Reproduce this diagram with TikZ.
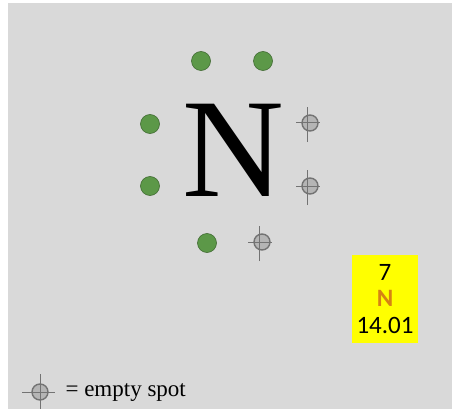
\documentclass[tikz,border=0pt]{standalone}
\usepackage{fontspec}
\setmainfont{Liberation Serif}
\newfontfamily\boxfont{Carlito}
\usetikzlibrary{positioning}
\definecolor{bggray}{RGB}{217,217,217}
\definecolor{dotgreen}{RGB}{92,152,72}
\definecolor{spotgray}{RGB}{115,115,115}
\definecolor{nyellow}{RGB}{255,255,0}
\definecolor{norange}{RGB}{214,130,20}

\begin{document}
\begin{tikzpicture}[x=1pt,y=-1pt,
  dot/.style={circle,fill=dotgreen,draw=dotgreen!70!black,line width=0.6pt,minimum size=19pt,inner sep=0pt},
  spot/.style={circle,fill=spotgray,fill opacity=0.35,draw=spotgray,line width=1.4pt,minimum size=16pt,inner sep=0pt},
  hair/.style={draw=spotgray,line width=1pt},
  cardbox/.style={fill=nyellow,minimum width=66pt,minimum height=88pt,inner sep=0pt},
  cardtext/.style={font=\boxfont\fontsize{25}{25}\selectfont},
]
\useasboundingbox (0,0) rectangle (452,409);
\fill[white] (0,0) rectangle (452,409);
\fill[bggray] (8,3) rectangle (452,409);
% element symbol
\node[font=\fontsize{141}{141}\selectfont] (sym) at (233,150) {N};
% valence electrons
\node[dot] (d1) at (201,61) {};
\node[dot] (d2) at (263,61) {};
\node[dot] (d3) at (150,124) {};
\node[dot] (d4) at (150,186) {};
\node[dot] (d5) at (207,243) {};
% empty spots
\node[spot] (s1) at (310,123) {};
\node[spot] (s2) at (310,186) {};
\node[spot] (s3) at (262,242) {};
\node[spot] (key) at (40,392) {};
\foreach \s in {s1,s2,s3}{
  \draw[hair] ([xshift=-3pt,yshift=-19pt]\s.center) -- ([xshift=-3pt,yshift=16pt]\s.center);
  \draw[hair] ([xshift=-14pt]\s.center) -- ([xshift=10pt]\s.center);
}
\draw[hair] ([yshift=-19pt]key.center) -- ([yshift=18pt]key.center);
\draw[hair] ([xshift=-18pt]key.center) -- ([xshift=15pt]key.center);
% periodic table card
\node[cardbox] (card) at (385,299) {};
\node[cardtext] (num) at (385,272) {7};
\node[cardtext,text=norange,font=\boxfont\bfseries\fontsize{25}{25}\selectfont] (abbr) at (385,298) {N};
\node[cardtext] (mass) at (385,325) {14.01};
% legend
\node[font=\fontsize{23}{23}\selectfont,anchor=west] (legend) at (62,393) {= empty spot};
\end{tikzpicture}
\end{document}
